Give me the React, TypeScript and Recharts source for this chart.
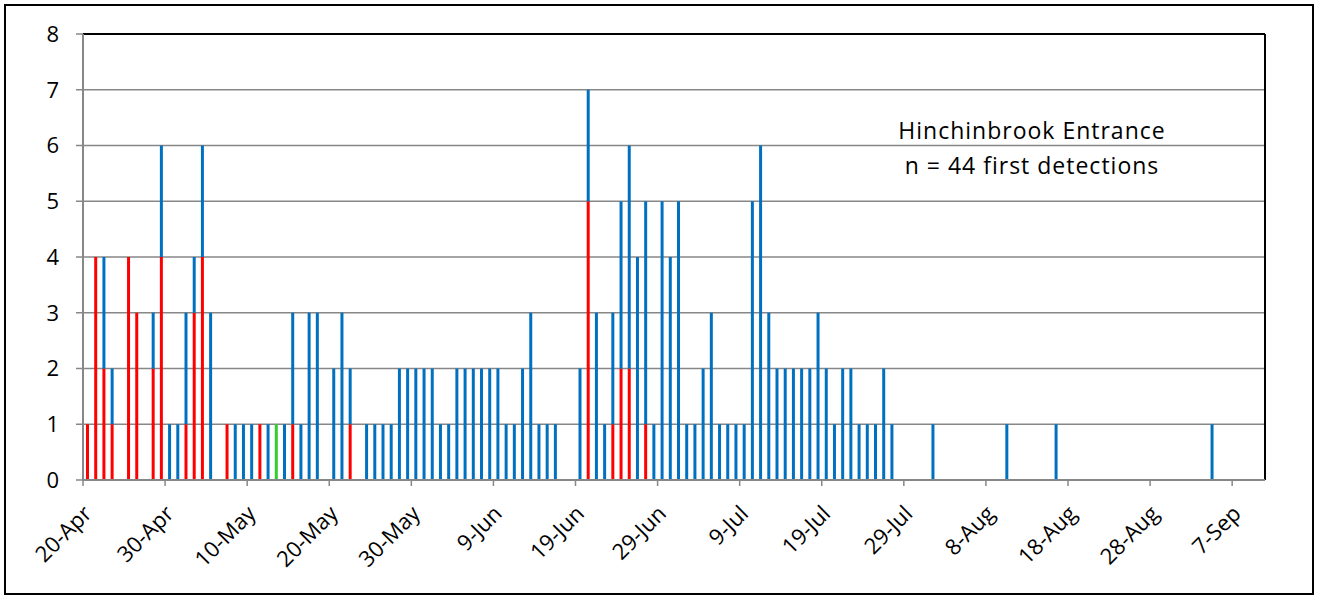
import React from 'react';
import { BarChart, Bar, XAxis, YAxis, CartesianGrid, ReferenceLine } from 'recharts';

// one tick every 10 days, starting 20-Apr
const tickLabels = [
    '20-Apr', '30-Apr', '10-May', '20-May', '30-May', '9-Jun', '19-Jun', '29-Jun',
    '9-Jul', '19-Jul', '29-Jul', '8-Aug', '18-Aug', '28-Aug', '7-Sep',
];

// daily first detections, 20-Apr .. 10-Sep (144 days), rows of 10 days
const redCounts = [
    1, 4, 2, 1, 0, 4, 3, 0, 2, 4,
    0, 0, 1, 3, 4, 0, 0, 1, 0, 0,
    0, 1, 0, 0, 0, 1, 0, 0, 0, 0,
    0, 0, 1, 0, 0, 0, 0, 0, 0, 0,
    0, 0, 0, 0, 0, 0, 0, 0, 0, 0,
    0, 0, 0, 0, 0, 0, 0, 0, 0, 0,
    0, 5, 0, 0, 1, 2, 2, 0, 1, 0,
    0, 0, 0, 0, 0, 0, 0, 0, 0, 0,
    0, 0, 0, 0, 0, 0, 0, 0, 0, 0,
    0, 0, 0, 0, 0, 0, 0, 0, 0, 0,
    0, 0, 0, 0, 0, 0, 0, 0, 0, 0,
    0, 0, 0, 0, 0, 0, 0, 0, 0, 0,
    0, 0, 0, 0, 0, 0, 0, 0, 0, 0,
    0, 0, 0, 0, 0, 0, 0, 0, 0, 0,
    0, 0, 0, 0,
];

const greenCounts = [
    0, 0, 0, 0, 0, 0, 0, 0, 0, 0,
    0, 0, 0, 0, 0, 0, 0, 0, 0, 0,
    0, 0, 0, 1, 0, 0, 0, 0, 0, 0,
    0, 0, 0, 0, 0, 0, 0, 0, 0, 0,
    0, 0, 0, 0, 0, 0, 0, 0, 0, 0,
    0, 0, 0, 0, 0, 0, 0, 0, 0, 0,
    0, 0, 0, 0, 0, 0, 0, 0, 0, 0,
    0, 0, 0, 0, 0, 0, 0, 0, 0, 0,
    0, 0, 0, 0, 0, 0, 0, 0, 0, 0,
    0, 0, 0, 0, 0, 0, 0, 0, 0, 0,
    0, 0, 0, 0, 0, 0, 0, 0, 0, 0,
    0, 0, 0, 0, 0, 0, 0, 0, 0, 0,
    0, 0, 0, 0, 0, 0, 0, 0, 0, 0,
    0, 0, 0, 0, 0, 0, 0, 0, 0, 0,
    0, 0, 0, 0,
];

const blueCounts = [
    0, 0, 2, 1, 0, 0, 0, 0, 1, 2,
    1, 1, 2, 1, 2, 3, 0, 0, 1, 1,
    1, 0, 1, 0, 1, 2, 1, 3, 3, 0,
    2, 3, 1, 0, 1, 1, 1, 1, 2, 2,
    2, 2, 2, 1, 1, 2, 2, 2, 2, 2,
    2, 1, 1, 2, 3, 1, 1, 1, 0, 0,
    2, 2, 3, 1, 2, 3, 4, 4, 4, 1,
    5, 4, 5, 1, 1, 2, 3, 1, 1, 1,
    1, 5, 6, 3, 2, 2, 2, 2, 2, 3,
    2, 1, 2, 2, 1, 1, 1, 2, 1, 0,
    0, 0, 0, 1, 0, 0, 0, 0, 0, 0,
    0, 0, 1, 0, 0, 0, 0, 0, 1, 0,
    0, 0, 0, 0, 0, 0, 0, 0, 0, 0,
    0, 0, 0, 0, 0, 0, 0, 1, 0, 0,
    0, 0, 0, 0,
];

const yTicks = [0, 1, 2, 3, 4, 5, 6, 7, 8];

const DAYS = redCounts.length;
const xTicks = tickLabels.map((_, i) => i * 10);
const data = redCounts.map((r, i) => ({
    x: i + 0.5,
    red: r,
    green: greenCounts[i],
    blue: blueCounts[i],
}));

const FONT = '"Open Sans", sans-serif';
const GRID = '#878787';

function DateTick({ x, y, payload }: any) {
    const label = tickLabels[Math.round(payload.value / 10)];
    const ax = x + 10;
    const ay = y + 27;
    return (
        <text
            x={ax}
            y={ay}
            transform={`rotate(-45, ${ax}, ${ay})`}
            textAnchor="end"
            fontSize={22}
            fontFamily={FONT}
            fill="#000"
        >
            {label}
        </text>
    );
}

export default function App() {
    return (
        <div style={{ position: 'absolute', left: 0, top: 0, width: 1320, height: 597, background: '#fff' }}>
            <BarChart
                width={1320}
                height={597}
                data={data}
                margin={{ top: 34, right: 55, bottom: 0, left: 0 }}
                barSize={3}
            >
                <CartesianGrid vertical={false} stroke={GRID} strokeWidth={1.5} />
                <XAxis
                    type="number"
                    dataKey="x"
                    domain={[0, DAYS]}
                    ticks={xTicks}
                    interval={0}
                    height={117}
                    tick={<DateTick />}
                    tickSize={6}
                    axisLine={{ stroke: GRID, strokeWidth: 2 }}
                    tickLine={{ stroke: GRID, strokeWidth: 1.5 }}
                    allowDataOverflow
                />
                <YAxis
                    width={83}
                    domain={[0, 8]}
                    ticks={yTicks}
                    interval={0}
                    tickSize={7}
                    tickMargin={17}
                    tick={{ fontSize: 22, fill: '#000', fontFamily: FONT }}
                    axisLine={{ stroke: GRID, strokeWidth: 2 }}
                    tickLine={{ stroke: GRID, strokeWidth: 1.5 }}
                />
                <ReferenceLine y={8} stroke="#000" strokeWidth={2} />
                <ReferenceLine x={DAYS} stroke="#000" strokeWidth={2} />
                <Bar dataKey="red" stackId="a" fill="#FF0000" isAnimationActive={false} />
                <Bar dataKey="green" stackId="a" fill="#33CC33" isAnimationActive={false} />
                <Bar dataKey="blue" stackId="a" fill="#0070C0" isAnimationActive={false} />
            </BarChart>
            <svg
                width={1320}
                height={597}
                style={{ position: 'absolute', left: 0, top: 0, pointerEvents: 'none' }}
            >
                <rect x={5} y={5} width={1308} height={589} fill="none" stroke="#000" strokeWidth={2} />
                <text x={1032} y={139} textAnchor="middle" fontSize={23} letterSpacing={1} fontFamily={FONT} fill="#000">
                    Hinchinbrook Entrance
                </text>
                <text x={1032} y={174} textAnchor="middle" fontSize={23} letterSpacing={1} fontFamily={FONT} fill="#000">
                    n = 44 first detections
                </text>
            </svg>
        </div>
    );
}
